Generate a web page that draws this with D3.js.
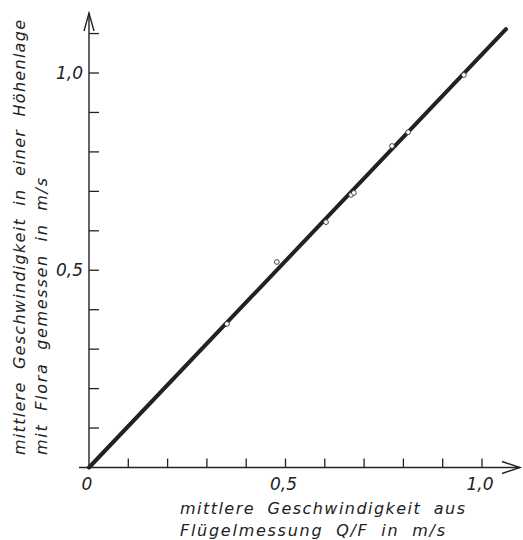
<!DOCTYPE html>
<html>
<head>
<meta charset="utf-8"/>
<title>Geschwindigkeit Flora / Flügelmessung</title>
<script src="https://d3js.org/d3.v7.min.js"></script>
<style>
    body { margin: 0; background: #fff; }
    #chart { width: 523px; height: 540px; }
    .lbl {
        font-family: "DejaVu Sans", sans-serif;
        font-style: italic;
        fill: #222;
    }
    .title { font-size: 16px; word-spacing: 6px; }
</style>
</head>
<body>
<div id="chart"></div>
<script>
    // measured points (x: Flügelmessung Q/F, y: Flora)
    var flugel = [0.351, 0.478, 0.603, 0.667, 0.674, 0.771, 0.812, 0.954];
    var flora  = [0.364, 0.521, 0.622, 0.691, 0.696, 0.815, 0.850, 0.995];
    // drawn regression line
    var fitX = [0, 1.061];
    var fitY = [0, 1.111];
    var xTicks = [0.1, 0.2, 0.3, 0.4, 0.5, 0.6, 0.7, 0.8, 0.9, 1.0];
    var yTicks = [0.1, 0.2, 0.3, 0.4, 0.5, 0.6, 0.7, 0.8, 0.9, 1.0, 1.1];
    var tickLabels = [0, 0.5, 1.0];
    var xTitle = ["mittlere Geschwindigkeit aus", "Flügelmessung Q/F in m/s"];
    var yTitle = ["mittlere Geschwindigkeit in einer Höhenlage", "mit Flora gemessen in m/s"];

    var width = 523, height = 540;
    var ink = "#222";
    var fmt = function(d){ return d === 0 ? "0" : d3.format(".1f")(d).replace(".", ","); };

    var x = d3.scaleLinear().domain([0, 1]).range([89, 482]);
    var y = d3.scaleLinear().domain([0, 1]).range([467.5, 73]);

    var svg = d3.select("#chart").append("svg")
        .attr("width", width)
        .attr("height", height);

    // axes
    svg.append("line")
        .attr("x1", x(0) - 10).attr("x2", 520)
        .attr("y1", y(0)).attr("y2", y(0))
        .attr("stroke", ink).attr("stroke-width", 1.4);
    svg.append("line")
        .attr("x1", x(0)).attr("x2", x(0))
        .attr("y1", y(0)).attr("y2", 13)
        .attr("stroke", ink).attr("stroke-width", 1.4);

    // arrow heads (open)
    svg.append("path")
        .attr("d", "M" + 502 + "," + (y(0) - 6) + "L520," + y(0) + "L" + 502 + "," + (y(0) + 6))
        .attr("fill", "none").attr("stroke", ink).attr("stroke-width", 1.4);
    svg.append("path")
        .attr("d", "M" + (x(0) - 5) + ",31L" + x(0) + ",13L" + (x(0) + 5) + ",31")
        .attr("fill", "none").attr("stroke", ink).attr("stroke-width", 1.4);

    // ticks
    svg.selectAll(".xt").data(xTicks).enter().append("line")
        .attr("class", "xt")
        .attr("x1", function(d){ return x(d); })
        .attr("x2", function(d){ return x(d); })
        .attr("y1", y(0)).attr("y2", y(0) - 9)
        .attr("stroke", ink).attr("stroke-width", 1.3);
    svg.selectAll(".yt").data(yTicks).enter().append("line")
        .attr("class", "yt")
        .attr("x1", x(0)).attr("x2", x(0) + 10)
        .attr("y1", function(d){ return y(d); })
        .attr("y2", function(d){ return y(d); })
        .attr("stroke", ink).attr("stroke-width", 1.3);

    // tick labels
    svg.selectAll(".xl").data(tickLabels).enter().append("text")
        .attr("class", "lbl")
        .attr("x", function(d){ return x(d) - 2; })
        .attr("y", 490)
        .attr("text-anchor", "middle")
        .style("font-size", "17px")
        .text(fmt);
    svg.selectAll(".yl").data(tickLabels.filter(function(d){ return d > 0; })).enter().append("text")
        .attr("class", "lbl")
        .attr("x", 83)
        .attr("y", function(d){ return y(d) + 6; })
        .attr("text-anchor", "end")
        .style("font-size", "17px")
        .text(fmt);

    // fitted line
    var fit = fitX.map(function(d, i){ return [d, fitY[i]]; });
    svg.append("path")
        .datum(fit)
        .attr("d", d3.line().x(function(d){ return x(d[0]); }).y(function(d){ return y(d[1]); }))
        .attr("fill", "none")
        .attr("stroke", ink)
        .attr("stroke-width", 4)
        .attr("stroke-linecap", "round");

    // points
    svg.selectAll(".pt").data(flugel).enter().append("circle")
        .attr("class", "pt")
        .attr("cx", function(d){ return x(d); })
        .attr("cy", function(d, i){ return y(flora[i]); })
        .attr("r", 2.4)
        .attr("fill", "#fff")
        .attr("stroke", "#333")
        .attr("stroke-width", 0.9);

    // x title
    svg.append("text").attr("class", "lbl title")
        .attr("x", 180).attr("y", 514)
        .attr("textLength", 285).attr("lengthAdjust", "spacing")
        .text(xTitle[0]);
    svg.append("text").attr("class", "lbl title")
        .attr("x", 180).attr("y", 536)
        .attr("textLength", 265).attr("lengthAdjust", "spacing")
        .text(xTitle[1]);

    // y title
    svg.append("text").attr("class", "lbl title")
        .attr("transform", "translate(25,455) rotate(-90)")
        .attr("textLength", 435).attr("lengthAdjust", "spacing")
        .text(yTitle[0]);
    svg.append("text").attr("class", "lbl title")
        .attr("transform", "translate(47,455) rotate(-90)")
        .attr("textLength", 277).attr("lengthAdjust", "spacing")
        .text(yTitle[1]);
</script>
</body>
</html>
